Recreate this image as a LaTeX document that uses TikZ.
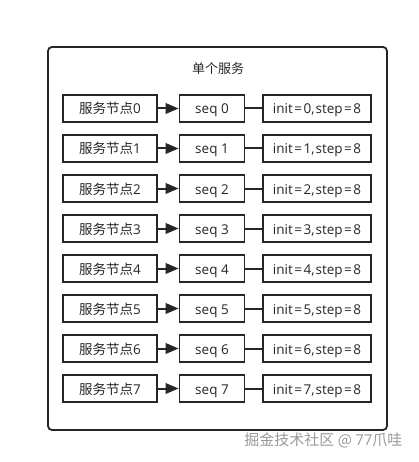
\documentclass[tikz,border=0pt]{standalone}
\usepackage{fontspec}
\setmainfont{Noto Sans CJK SC}
\newfontfamily\lat{Open Sans}
\usetikzlibrary{arrows.meta}
\newcommand{\eqk}{\kern1.5pt=\kern1.5pt}
\begin{document}
\begin{tikzpicture}[x=1pt,y=-1pt,
  box/.style={draw=black!85,line width=1.8pt,minimum height=27pt,inner sep=0pt,text height=14pt,text depth=3pt,font=\fontsize{13.5}{15}\selectfont,text=black!85},
  nodebox/.style={box,minimum width=94pt},
  seqbox/.style={box,minimum width=65pt},
  initbox/.style={box,minimum width=108pt},
  arr/.style={draw=black!85,line width=2pt,-{Triangle[length=13pt,width=10.5pt]}},
  lnk/.style={draw=black!85,line width=2pt}]
\useasboundingbox (0,0) rectangle (419,462);
\node[draw=black!85,line width=1.8pt,rounded corners=4pt,minimum width=339pt,minimum height=383pt,inner sep=0pt] (outer) at (217.5,238.5) {};
\node[font=\fontsize{13}{15}\selectfont,text=black!85] (title) at (218,69) {单个服务};
\foreach \i in {0,...,7}{
  \pgfmathsetmacro{\yy}{108.5+40*\i}
  \node[nodebox] (n\i) at (110,\yy) {服务节点{\lat\i}};
  \node[seqbox] (s\i) at (212,\yy) {\lat seq \i};
  \node[initbox] (t\i) at (317,\yy) {\lat init\eqk\i,\kern1pt step\eqk 8};
  \draw[arr] (n\i) -- (s\i);
  \draw[lnk] (s\i) -- (t\i);
}
\node[font=\fontsize{15}{17}\selectfont,text=black!40,anchor=east] (wm) at (406,440.5) {掘金技术社区 @ {\lat 77}爪哇};
\end{tikzpicture}
\end{document}
